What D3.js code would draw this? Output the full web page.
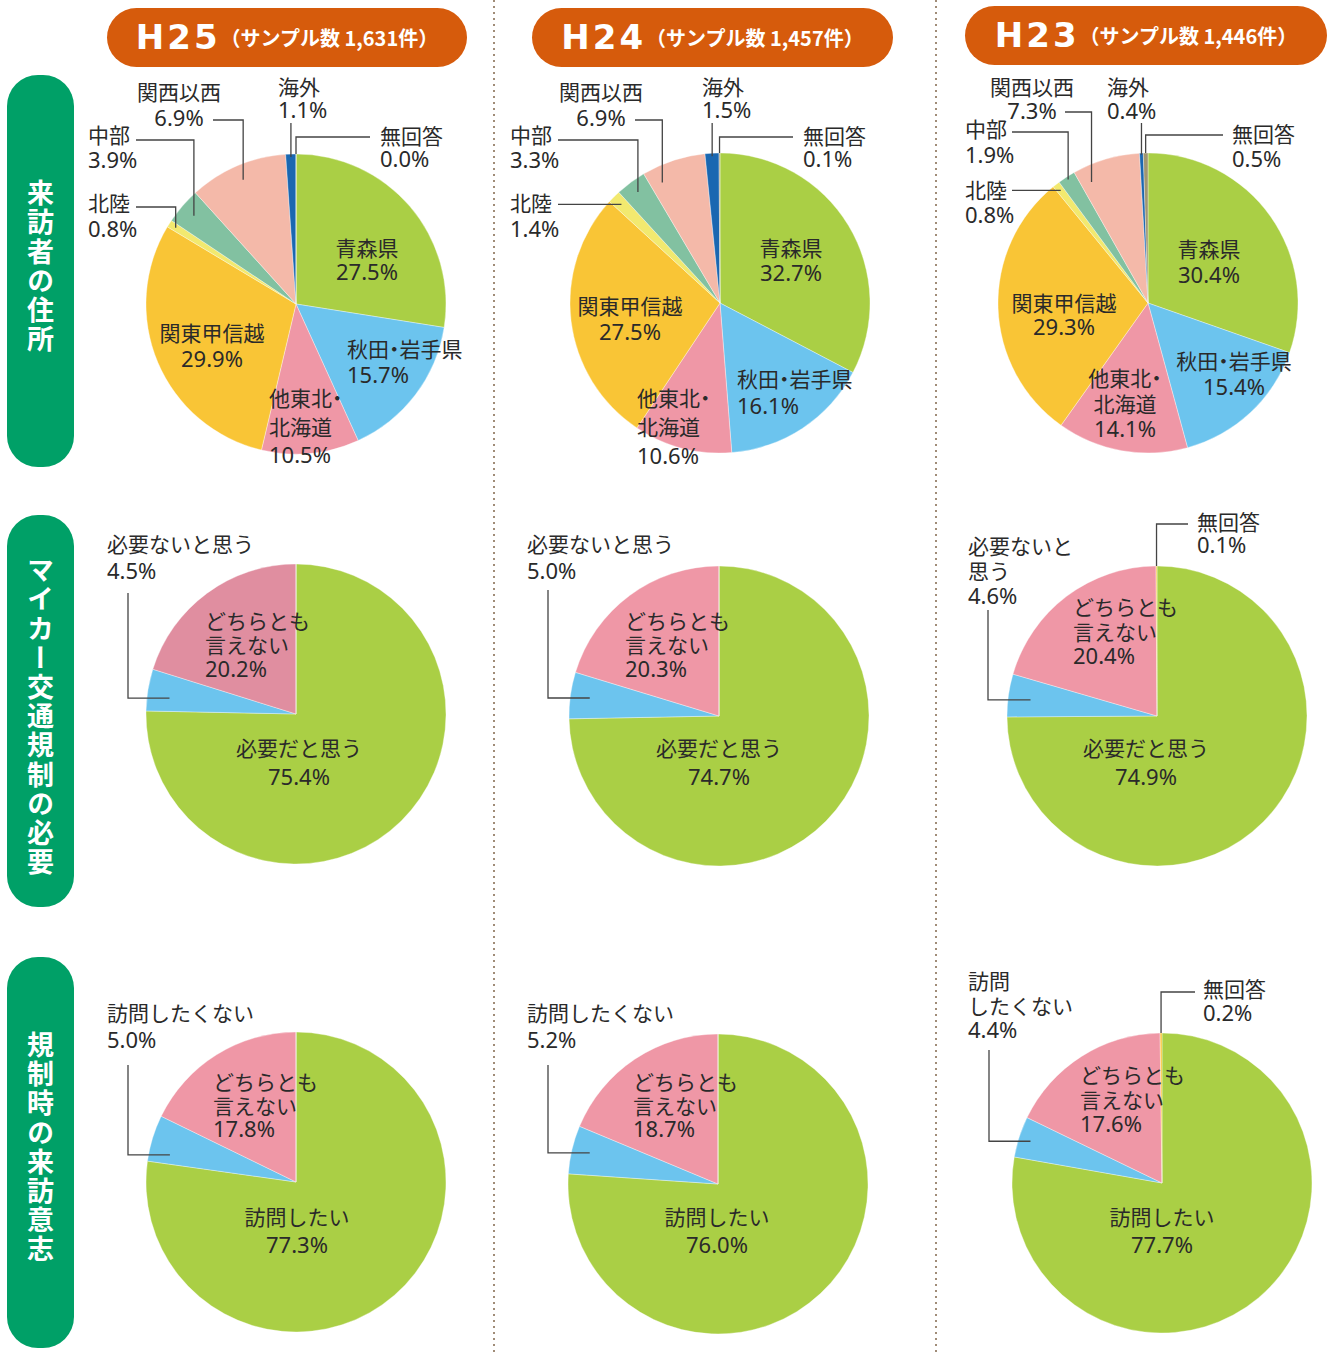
<!DOCTYPE html>
<html><head><meta charset="utf-8">
<script src="https://cdn.jsdelivr.net/npm/d3@7"></script>
<style>body{margin:0;background:#fff}svg{display:block}</style>
</head><body>
<script>
// ---------------- data ----------------
const years = ["H25", "H24", "H23"];
const sampleSizes = ["1,631", "1,457", "1,446"];
const rowTitles = ["来訪者の住所", "マイカー交通規制の必要", "規制時の来訪意志"];

const addrCats = ["青森県", "秋田・岩手県", "他東北・北海道", "関東甲信越", "北陸", "中部", "関西以西", "海外", "無回答"];
const addrH25 = [27.5, 15.7, 10.5, 29.9, 0.8, 3.9, 6.9, 1.1, 0.0];
const addrH24 = [32.7, 16.1, 10.6, 27.5, 1.4, 3.3, 6.9, 1.5, 0.1];
const addrH23 = [30.4, 15.4, 14.1, 29.3, 0.8, 1.9, 7.3, 0.4, 0.5];
// slice sizes as drawn in the H25 pie (the 関西以西 slice covers 10.6% in the picture)
const addrSliceH25 = [27.5, 15.7, 10.5, 29.9, 0.8, 3.9, 10.6, 1.1, 0.0];

const needCats = ["必要だと思う", "必要ないと思う", "どちらとも言えない", "無回答"];
const needH25 = [75.4, 4.5, 20.2, 0];
const needH24 = [74.7, 5.0, 20.3, 0];
const needH23 = [74.9, 4.6, 20.4, 0.1];

const visitCats = ["訪問したい", "訪問したくない", "どちらとも言えない", "無回答"];
const visitH25 = [77.3, 5.0, 17.8, 0];
const visitH24 = [76.0, 5.2, 18.7, 0];
const visitH23 = [77.7, 4.4, 17.6, 0.2];

// ---------------- style ----------------
const addrColors = ["#aacf45", "#6cc4ee", "#ef97a6", "#f9c536", "#f2e96f", "#82c1a1", "#f4b9a9", "#1a67b1", "#a09670"];
const twoColors = ["#aacf45", "#6cc4ee", "#ef97a6", "#f9c536"];
const twoColorsDark = ["#aacf45", "#6cc4ee", "#e08ea0", "#f9c536"];
const R = 150;
const FONT = "'Noto Sans','Noto Sans CJK JP',sans-serif";
const TXT = "#2a2a2a";

// ---------------- layout ----------------
const charts = [
  { cats: addrCats, labels: addrH25, values: addrSliceH25, colors: addrColors, cx: 296, cy: 304,
    texts: [
      { i: 0, x: 367, y: 256, a: "middle", lh: 24 },
      { i: 1, x: 347, y: 357, a: "start", lh: 26 },
      { i: 2, lines: ["他東北・", "北海道"], x: 269, y: 406, a: "start", lh: 28.5 },
      { i: 3, x: 212, y: 341, a: "middle", lh: 26 },
      { i: 4, x: 88, y: 211, a: "start", lh: 26 },
      { i: 5, x: 88, y: 143, a: "start", lh: 25 },
      { i: 6, x: 179, y: 100, a: "middle", lh: 26 },
      { i: 7, x: 278, y: 95, a: "start", lh: 23 },
      { i: 8, x: 380, y: 144, a: "start", lh: 23 }],
    leaders: [
      { i: 4, t: 0.5, k: 0.95, sx: 136, sy: 207, type: "hv" },
      { i: 5, t: 0.5, k: 0.9, sx: 136, sy: 140, type: "hv" },
      { i: 6, t: 0.5, k: 0.9, sx: 213, sy: 120, type: "hv" },
      { i: 7, t: 0.5, k: 0.98, sx: null, sy: 123, type: "hv" },
      { i: 8, t: 0.5, k: 1.0, sx: 370, sy: 137, type: "hv" }] },
  { cats: addrCats, labels: addrH24, values: addrH24, colors: addrColors, cx: 720, cy: 303,
    texts: [
      { i: 0, x: 791, y: 256, a: "middle", lh: 25 },
      { i: 1, x: 737, y: 387, a: "start", lh: 27 },
      { i: 2, lines: ["他東北・", "北海道"], x: 637, y: 406, a: "start", lh: 29 },
      { i: 3, x: 630, y: 314, a: "middle", lh: 26 },
      { i: 4, x: 510, y: 211, a: "start", lh: 26 },
      { i: 5, x: 510, y: 143, a: "start", lh: 25 },
      { i: 6, x: 601, y: 100, a: "middle", lh: 26 },
      { i: 7, x: 702, y: 95, a: "start", lh: 23 },
      { i: 8, x: 803, y: 144, a: "start", lh: 23 }],
    leaders: [
      { i: 4, t: 0.5, k: 0.93, sx: 558, sy: null, type: "hv" },
      { i: 5, t: 0.5, k: 0.92, sx: 558, sy: 140, type: "hv" },
      { i: 6, t: 0.2, k: 0.89, sx: 635, sy: 120, type: "hv" },
      { i: 7, t: 0.5, k: 0.98, sx: null, sy: 123, type: "hv" },
      { i: 8, t: 0.5, k: 1.0, sx: 793, sy: 137, type: "hv" }] },
  { cats: addrCats, labels: addrH23, values: addrH23, colors: addrColors, cx: 1148, cy: 303,
    texts: [
      { i: 0, x: 1209, y: 257, a: "middle", lh: 26 },
      { i: 1, x: 1234, y: 369, a: "middle", lh: 26 },
      { i: 2, lines: ["他東北・", "北海道"], x: 1125, y: 386, a: "middle", lh: 25.5 },
      { i: 3, x: 1064, y: 311, a: "middle", lh: 24 },
      { i: 4, x: 965, y: 198, a: "start", lh: 25 },
      { i: 5, x: 965, y: 137, a: "start", lh: 26 },
      { i: 6, x: 1032, y: 95, a: "middle", lh: 24 },
      { i: 7, x: 1107, y: 95, a: "start", lh: 24 },
      { i: 8, x: 1232, y: 142, a: "start", lh: 25 }],
    leaders: [
      { i: 4, t: 0.5, k: 0.95, sx: 1012, sy: null, type: "hv" },
      { i: 5, t: 0.5, k: 0.98, sx: 1012, sy: 132, type: "hv" },
      { i: 6, t: 0.17, k: 0.89, sx: 1065, sy: 112, type: "hv" },
      { i: 7, t: 0.5, k: 0.99, sx: null, sy: 123, type: "hv" },
      { i: 8, t: 0.5, k: 1.0, sx: 1223, sy: 135, type: "hv" }] },

  { cats: needCats, labels: needH25, values: needH25, colors: twoColorsDark, cx: 296, cy: 714,
    texts: [
      { i: 0, x: 299, y: 756, a: "middle", lh: 29 },
      { i: 1, x: 107, y: 552, a: "start", lh: 27 },
      { i: 2, lines: ["どちらとも", "言えない"], x: 205, y: 629, a: "start", lh: 24 }],
    leaders: [{ i: 1, t: 0.37, k: 0.85, sx: 128, sy: 593, type: "vh" }] },
  { cats: needCats, labels: needH24, values: needH24, colors: twoColors, cx: 719, cy: 716,
    texts: [
      { i: 0, x: 719, y: 756, a: "middle", lh: 29 },
      { i: 1, x: 527, y: 552, a: "start", lh: 27 },
      { i: 2, lines: ["どちらとも", "言えない"], x: 625, y: 629, a: "start", lh: 24 }],
    leaders: [{ i: 1, t: 0.5, k: 0.87, sx: 548, sy: 590, type: "vh" }] },
  { cats: needCats, labels: needH23, values: needH23, colors: twoColors, cx: 1157, cy: 716,
    texts: [
      { i: 0, x: 1146, y: 756, a: "middle", lh: 29 },
      { i: 1, lines: ["必要ないと", "思う"], x: 968, y: 554, a: "start", lh: 25 },
      { i: 2, lines: ["どちらとも", "言えない"], x: 1073, y: 615, a: "start", lh: 24.5 },
      { i: 3, x: 1197, y: 530, a: "start", lh: 23 }],
    leaders: [
      { i: 1, t: 0.46, k: 0.85, sx: 988, sy: 610, type: "vh" },
      { i: 3, t: 0.5, k: 1.0, sx: 1188, sy: 524, type: "hv" }] },

  { cats: visitCats, labels: visitH25, values: visitH25, colors: twoColors, cx: 296, cy: 1182,
    texts: [
      { i: 0, x: 297, y: 1225, a: "middle", lh: 28 },
      { i: 1, x: 107, y: 1021, a: "start", lh: 27 },
      { i: 2, lines: ["どちらとも", "言えない"], x: 213, y: 1090, a: "start", lh: 23.5 }],
    leaders: [{ i: 1, t: 0.23, k: 0.86, sx: 128, sy: 1065, type: "vh" }] },
  { cats: visitCats, labels: visitH24, values: visitH24, colors: twoColors, cx: 718, cy: 1184,
    texts: [
      { i: 0, x: 717, y: 1225, a: "middle", lh: 28 },
      { i: 1, x: 527, y: 1021, a: "start", lh: 27 },
      { i: 2, lines: ["どちらとも", "言えない"], x: 633, y: 1090, a: "start", lh: 23.5 }],
    leaders: [{ i: 1, t: 0.52, k: 0.88, sx: 548, sy: 1065, type: "vh" }] },
  { cats: visitCats, labels: visitH23, values: visitH23, colors: twoColors, cx: 1162, cy: 1183,
    texts: [
      { i: 0, x: 1162, y: 1225, a: "middle", lh: 28 },
      { i: 1, lines: ["訪問", "したくない"], x: 968, y: 989, a: "start", lh: 24.5 },
      { i: 2, lines: ["どちらとも", "言えない"], x: 1080, y: 1083, a: "start", lh: 24.5 },
      { i: 3, x: 1203, y: 997, a: "start", lh: 24 }],
    leaders: [
      { i: 1, t: 0.48, k: 0.92, sx: 989, sy: 1050, type: "vh" },
      { i: 3, t: 0.5, k: 1.0, sx: 1195, sy: 992, type: "hv" }] }
];

const headers = [
  { x: 107, y: 8, w: 360, h: 59 },
  { x: 532, y: 8, w: 361, h: 59 },
  { x: 965, y: 6, w: 362, h: 59 }];
const sideBoxes = [
  { y: 75, h: 392, mid: 267 },
  { y: 515, h: 392, mid: 717 },
  { y: 957, h: 391, mid: 1148 }];

// ---------------- drawing ----------------
const W = 1334, H = 1352;
const svg = d3.select("body").append("svg").attr("width", W).attr("height", H)
  .style("font-family", FONT);

// dotted separators
[494, 936].forEach(x => {
  svg.append("line").attr("x1", x).attr("x2", x).attr("y1", 0).attr("y2", H)
    .attr("stroke", "#a08c78").attr("stroke-width", 2).attr("stroke-dasharray", "2,4");
});

// year headers
headers.forEach((h, j) => {
  svg.append("rect").attr("x", h.x).attr("y", h.y).attr("width", h.w).attr("height", h.h)
    .attr("rx", h.h / 2).attr("fill", "#d65b0c");
  const t = svg.append("text").attr("x", h.x + h.w / 2).attr("y", h.y + h.h / 2 + 11)
    .attr("text-anchor", "middle").attr("fill", "#fff").attr("font-weight", 700);
  t.append("tspan").text(years[j]).attr("font-size", 34).attr("font-weight", 900)
    .attr("letter-spacing", 3).style("font-family", "'DejaVu Sans','Noto Sans',sans-serif");
  t.append("tspan").text("（サンプル数 " + sampleSizes[j] + "件）").attr("font-size", 20)
    .attr("dy", -3).style("font-family", "'Noto Sans CJK JP',sans-serif");
});

// side titles (vertical writing)
sideBoxes.forEach((b, r) => {
  svg.append("rect").attr("x", 7).attr("y", b.y).attr("width", 67).attr("height", b.h)
    .attr("rx", 31).attr("fill", "#00a067");
  svg.append("text").attr("x", 40.5).attr("y", b.mid)
    .style("writing-mode", "vertical-rl").style("text-orientation", "upright")
    .attr("text-anchor", "middle").attr("fill", "#fff").attr("font-size", 27)
    .attr("letter-spacing", 2.2).attr("font-weight", 700)
    .style("font-family", "'Noto Sans CJK JP',sans-serif").text(rowTitles[r]);
});

const fmt = d3.format(".1f");
const pie = d3.pie().sort(null).value(d => d);
const arc = d3.arc().innerRadius(0).outerRadius(R);

charts.forEach(ch => {
  const arcs = pie(ch.values);
  const g = svg.append("g").attr("transform", `translate(${ch.cx},${ch.cy})`);
  g.selectAll("path").data(arcs).join("path")
    .attr("d", arc).attr("fill", (d, i) => ch.colors[i])
    .attr("stroke", "#fff").attr("stroke-width", 0.5).attr("stroke-opacity", 0.7);

  // leader lines
  ch.leaders.forEach(l => {
    const a = arcs[l.i];
    const ang = a.startAngle + (a.endAngle - a.startAngle) * l.t;
    const ex = ch.cx + Math.sin(ang) * R * l.k;
    const ey = ch.cy - Math.cos(ang) * R * l.k;
    let pts;
    if (l.type === "hv") {
      const sx = l.sx == null ? ex : l.sx;
      const sy = l.sy == null ? ey : l.sy;
      pts = [[sx, sy], [ex, sy], [ex, ey]];
    } else {
      pts = [[l.sx, l.sy], [l.sx, ey], [ex, ey]];
    }
    svg.append("path").attr("d", d3.line()(pts)).attr("fill", "none")
      .attr("stroke", "#444").attr("stroke-width", 1.3);
  });

  // labels (half-width punctuation via the 'halt' feature)
  ch.texts.forEach(t => {
    const nameLines = t.lines || [ch.cats[t.i]];
    const el = svg.append("text").attr("text-anchor", t.a).attr("fill", TXT)
      .style("font-feature-settings", "'halt' 1");
    nameLines.forEach((s, k) => {
      el.append("tspan").attr("x", t.x).attr("y", t.y + k * t.lh).attr("font-size", 21).text(s);
    });
    el.append("tspan").attr("x", t.x).attr("y", t.y + nameLines.length * t.lh)
      .attr("font-size", 22).text(fmt(ch.labels[t.i]) + "%");
  });
});
</script>
</body></html>
